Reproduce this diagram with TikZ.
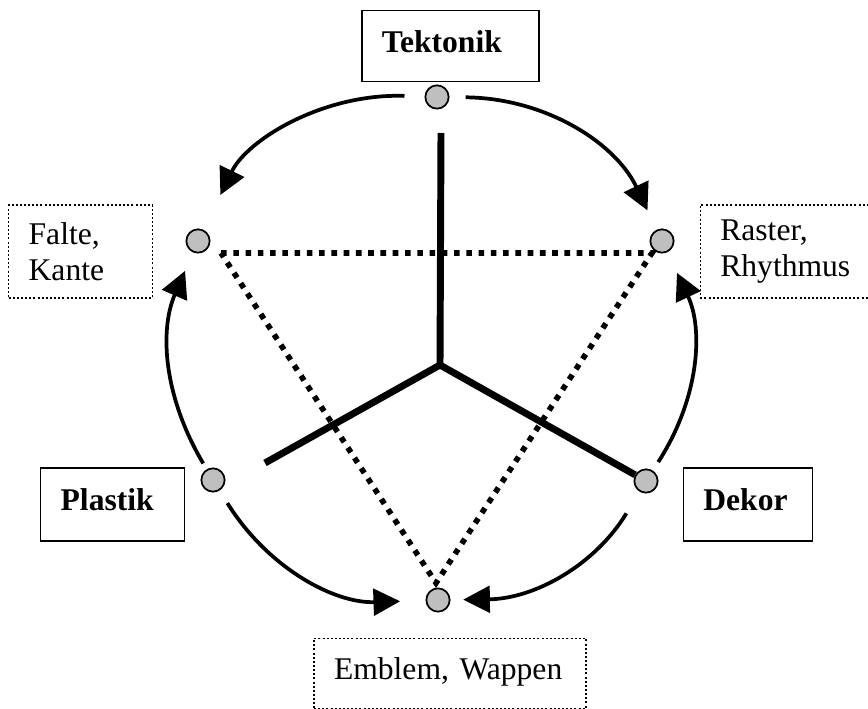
\documentclass[tikz,border=0pt]{standalone}
\usepackage{fontspec}
\setmainfont{Liberation Serif}
\usetikzlibrary{positioning, arrows.meta}

\begin{document}
\begin{tikzpicture}[x=0.75pt, y=-0.75pt,
  font=\fontsize{23.7}{27}\selectfont\frenchspacing,
  >={Triangle[length=20pt, width=20pt]},
  dot/.style={draw, circle, fill=gray!50, line width=1.3pt, minimum size=17.5pt, inner sep=0pt},
  box/.style={draw, line width=1.2pt, inner xsep=15pt, inner ysep=0pt, align=left},
  dbox/.style={box, dash pattern=on 1.5pt off 1.6pt},
  oneline/.style={text height=16.6pt, text depth=7.1pt},
  bow/.style={->, line width=2.8pt},
  spoke/.style={line width=5.2pt},
  tri/.style={line width=4.2pt, dash pattern=on 4.2pt off 5pt}]
  \useasboundingbox (0,0) rectangle (868,709);

  % circles
  \node[dot] (T)  at (437,97)  {};
  \node[dot] (FK) at (198,241) {};
  \node[dot] (RR) at (662,241) {};
  \node[dot] (PL) at (213,480) {};
  \node[dot] (DK) at (646,481) {};
  \node[dot] (EW) at (438,600) {};

  % labels
  \node[box, oneline, text width=102.75pt, minimum height=53.25pt, above=1.5pt of T, xshift=10pt] (tek) {\textbf{Tektonik}};
  \node[dbox, text width=78pt, minimum height=69.75pt, left=24pt of FK, yshift=-8pt] (fk) {Falte,\\Kante};
  \node[dbox, text width=97.5pt, minimum height=69.75pt, right=18.75pt of RR, yshift=-8pt] (rr) {Raster,\\Rhythmus};
  \node[box, oneline, text width=78pt, minimum height=54.75pt, left=11.25pt of PL, yshift=-18.4pt] (pl) {\textbf{Plastik}};
  \node[box, oneline, text width=66.75pt, minimum height=54.75pt, right=18pt of DK, yshift=-17.6pt] (dk) {\textbf{Dekor}};
  \node[dbox, oneline, text width=174pt, minimum height=52.5pt, below=18.75pt of EW, xshift=9pt] (ew) {Emblem, Wappen};

  % spokes
  \coordinate (C)   at (440,365);
  \coordinate (top) at (441,133);
  \coordinate (lft) at (265,463);
  \draw[spoke] (C) -- (top);
  \draw[spoke] (lft) -- (C) -- (DK);

  % dotted triangle
  \coordinate (t1) at (221,253);
  \coordinate (t2) at (652,253);
  \coordinate (t3) at (436,583);
  \draw[tri] (t1) -- (t2) -- (t3) -- cycle;

  % arrows
  \draw[bow, shorten <=15pt, shorten >=29pt] (T) to[bend right=33] (FK);
  \draw[bow, shorten <=12pt, shorten >=16pt] (T) to[bend left=32] (RR);
  \draw[bow, shorten <=5pt, shorten >=15pt] (PL) to[bend left=27] (FK);
  \draw[bow, shorten <=7.5pt, shorten >=17pt] (DK) to[bend right=29] (RR);
  \draw[bow, shorten <=11pt, shorten >=19pt] (PL) to[bend right=30] (EW);
  \draw[bow, shorten <=19pt, shorten >=9.5pt] (DK) to[bend left=29] (EW);
\end{tikzpicture}
\end{document}
